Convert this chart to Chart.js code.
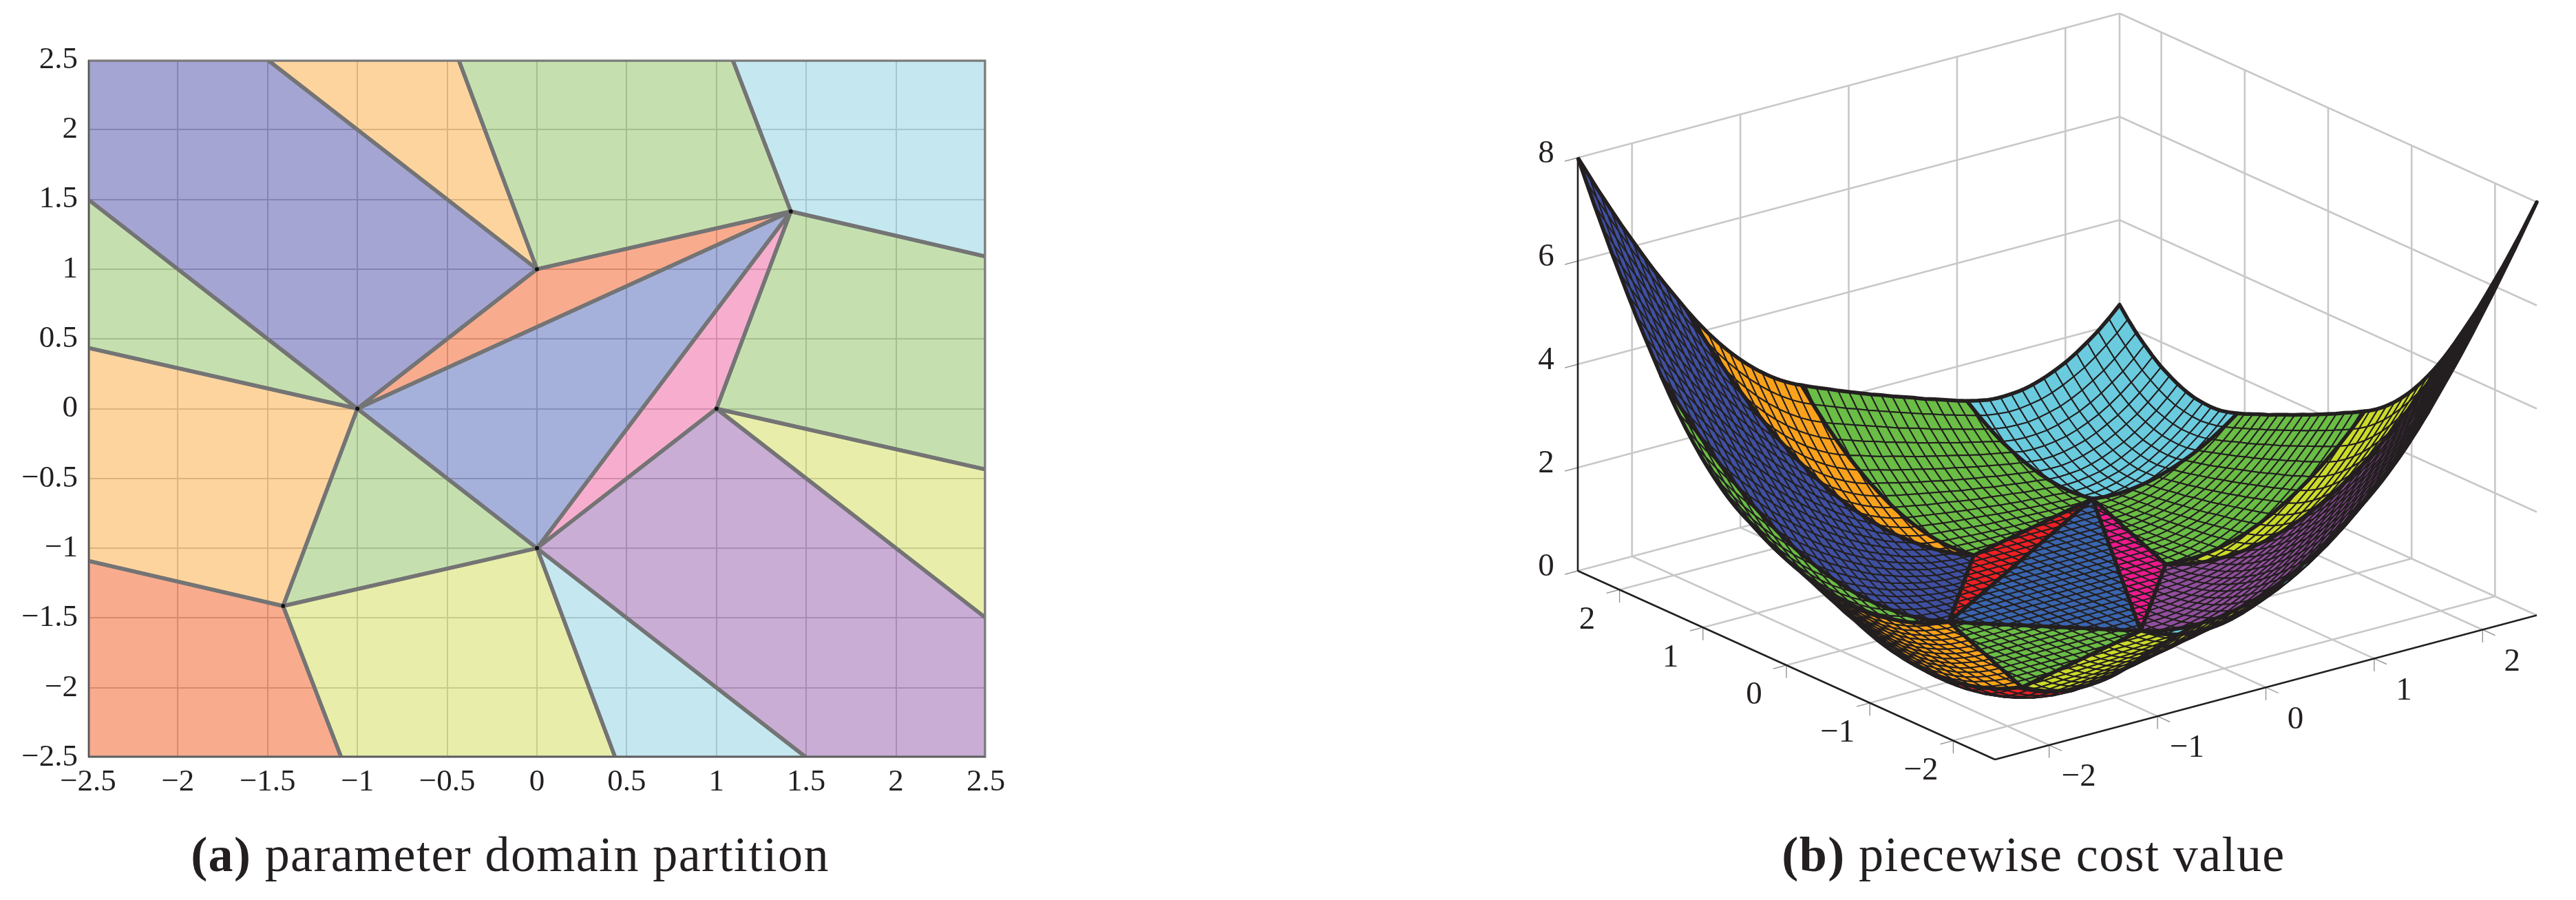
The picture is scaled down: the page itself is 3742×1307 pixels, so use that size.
<!DOCTYPE html>
<html>
<head>
<meta charset="utf-8">
<title>parameter domain partition and piecewise cost value</title>
<script src="https://cdn.jsdelivr.net/npm/chart.js@4"></script>
<style>
  body { margin: 0; background: #fff; width: 3742px; height: 1307px; position: relative; overflow: hidden; }
  canvas { position: absolute; top: 0; }
  .caption { position: absolute; top: 1196px; transform: translateX(-50%); white-space: nowrap; color: #231f20;
    font: 72px/90px "Liberation Serif", serif; letter-spacing: 1.4px; }
</style>
</head>
<body>
<canvas id="js-partition" width="1500" height="1180" style="left:0"></canvas>
<canvas id="js-surface" width="1592" height="1180" style="left:2150px"></canvas>
<div class="caption" style="left:741px"><b>(a)</b> parameter domain partition</div>
<div class="caption" style="left:2954px"><b>(b)</b> piecewise cost value</div>
<script>
const INK = "#231f20";
const TICK_FONT = "Liberation Serif";

const planeTicks = [ -2.5, -2, -1.5, -1, -0.5, 0, 0.5, 1, 1.5, 2, 2.5 ];
const axisTicks = [ -2, -1, 0, 1, 2 ];
const heightTicks = [ 0, 2, 4, 6, 8 ];
const innerVertices = [ [-1,0], [0,1], [1.414,1.414], [1,0], [0,-1], [-1.414,-1.414] ];

// first region is painted first on the surface, the later ones cover it
const regionCorners = [
  [ [-1.414,-1.414], [-1.09,-2.5], [-2.5,-2.5], [-2.5,-1.09] ],
  [ [0,-1], [1.5,-2.5], [0.436,-2.5] ],
  [ [0,-1], [0.436,-2.5], [-1.09,-2.5], [-1.414,-1.414] ],
  [ [-1,0], [-1.414,-1.414], [-2.5,-1.09], [-2.5,0.436] ],
  [ [-1,0], [-2.5,0.436], [-2.5,1.5] ],
  [ [1,0], [2.5,-1.5], [2.5,-2.5], [1.5,-2.5], [0,-1] ],
  [ [-2.5,2.5], [-1.5,2.5], [0,1], [-1,0], [-2.5,1.5] ],
  [ [1,0], [2.5,-0.436], [2.5,-1.5] ],
  [ [1.414,1.414], [2.5,1.09], [2.5,-0.436], [1,0] ],
  [ [1.09,2.5], [2.5,2.5], [2.5,1.09], [1.414,1.414] ],
  [ [-0.436,2.5], [1.09,2.5], [1.414,1.414], [0,1] ],
  [ [-1.5,2.5], [-0.436,2.5], [0,1] ],
  [ [-1,0], [-1.414,-1.414], [0,-1] ],
  [ [-1,0], [1.414,1.414], [0,1] ],
  [ [-1,0], [0,-1], [1.414,1.414] ],
  [ [0,-1], [1,0], [1.414,1.414] ],
];
const paleColors = [
  "rgba(243,87,27,.5)", "rgba(139,209,225,.5)", "rgba(209,219,83,.5)", "rgba(251,169,61,.5)",
  "rgba(139,193,93,.5)", "rgba(147,91,171,.5)", "rgba(73,75,165,.5)", "rgba(209,219,83,.5)",
  "rgba(139,193,93,.5)", "rgba(139,209,225,.5)", "rgba(139,193,93,.5)", "rgba(251,169,61,.5)",
  "rgba(139,193,93,.5)", "rgba(243,87,27,.5)", "rgba(75,99,181,.5)", "rgba(239,93,157,.5)",
];
const meshColors = [
  "#ed2024", "#6acbde", "#cbdb2a", "#faa21b",
  "#6abd45", "#924f9e", "#3f50a2", "#cbdb2a",
  "#6abd45", "#6acbde", "#6abd45", "#faa21b",
  "#6abd45", "#ed2024", "#3a66b0", "#ec1a8d",
];

// estimated cost x100 on a 0.1 grid, y = -2.5 .. 0, x = -2.5 .. 2.5 in each row.
// fitted to what the picture shows: 0 on the inner hexagon, 8 and 2.37 at the corners
const costRows = [
  [236,215,196,180,165,152,142,133,126,121,119,118,119,123,128,134,141,148,154,162,169,176,184,191,199,207,215,224,232,241,250,261,274,289,306,325,346,369,394,421,450,481,512,544,578,613,648,685,722,761,800],
  [215,194,176,159,144,132,121,112,105,101,98,97,99,102,107,113,119,125,132,138,145,152,159,166,173,181,188,196,204,212,221,232,245,260,277,296,317,340,365,392,421,450,481,512,545,578,613,648,685,722,761],
  [196,176,157,140,126,113,102,93,87,82,79,79,80,83,88,93,99,105,110,116,123,129,135,142,149,156,163,170,177,185,194,205,218,233,250,269,290,313,338,365,392,421,450,480,512,544,578,613,648,685,722],
  [180,159,140,124,109,96,85,77,70,65,63,62,63,66,71,76,81,86,91,97,102,108,114,120,126,133,139,146,153,160,169,180,193,208,225,244,265,288,313,338,365,392,421,450,481,512,545,578,613,648,685],
  [165,144,126,109,94,81,71,62,55,51,48,47,48,52,56,60,64,69,74,79,84,89,94,100,106,111,117,124,130,137,146,157,170,185,202,221,242,265,288,313,338,365,392,421,450,481,512,545,578,613,648],
  [152,132,113,96,81,69,58,49,43,38,35,34,36,39,42,46,50,54,58,63,67,72,77,82,87,92,98,103,109,116,125,136,149,164,181,200,221,242,265,288,313,338,365,392,421,450,481,512,545,578,613],
  [142,121,102,85,71,58,47,39,32,27,24,24,25,28,31,34,37,41,44,48,52,56,61,65,70,75,80,85,90,97,106,117,130,145,162,181,200,221,242,265,288,313,338,364,392,421,450,481,512,545,578],
  [133,112,93,77,62,49,39,30,23,18,16,15,16,19,21,24,27,29,33,36,39,43,47,51,55,59,63,68,73,80,89,100,113,128,145,162,181,200,221,242,265,288,313,338,365,392,421,450,481,512,544],
  [126,105,87,70,55,43,32,23,16,12,9,8,9,11,13,15,18,20,23,25,28,31,35,38,41,45,49,53,58,65,74,85,98,113,128,144,162,181,200,221,242,265,288,313,338,365,392,421,450,481,512],
  [121,101,82,65,51,38,27,18,12,7,4,3,4,6,7,9,10,12,14,17,19,21,24,27,30,33,36,40,45,52,61,72,85,98,113,128,145,162,181,200,221,242,265,288,313,338,365,392,421,450,481],
  [119,98,79,63,48,35,24,16,9,4,1,1,1,2,3,4,5,7,8,10,12,14,16,18,20,23,26,29,34,41,50,61,72,85,98,113,128,145,162,181,200,221,242,264,288,313,338,365,392,421,450],
  [118,97,79,62,47,34,24,15,8,3,1,0,0,0,1,1,2,3,4,5,6,7,9,11,13,15,17,20,25,32,40,50,61,72,85,98,113,128,145,162,181,200,221,242,265,288,313,338,365,392,421],
  [119,99,80,63,48,36,25,16,9,4,1,0,0,0,0,0,0,0,1,1,2,3,4,5,7,8,10,13,18,25,32,40,50,61,72,84,98,113,128,145,162,181,200,220,242,264,288,313,338,365,394],
  [123,102,83,66,52,39,28,19,11,6,2,0,0,0,0,0,0,0,0,0,0,1,1,2,3,4,5,8,13,18,24,32,41,50,61,72,85,98,113,128,144,162,181,200,221,242,265,288,313,340,369],
  [128,107,88,71,56,42,31,21,13,7,3,1,0,0,0,0,0,0,0,0,0,0,0,0,0,1,2,5,8,13,18,24,32,41,50,60,72,85,98,113,128,145,162,180,200,220,242,265,290,317,346],
  [134,113,93,76,60,46,34,24,15,9,4,1,0,0,0,0,0,0,0,0,0,0,0,0,0,0,1,2,5,8,13,18,25,32,41,50,61,72,85,98,113,128,145,162,181,200,221,244,269,296,325],
  [141,119,99,81,64,50,37,27,18,10,5,2,0,0,0,0,0,0,0,0,0,0,0,0,0,0,0,1,2,5,8,13,18,25,32,40,50,61,72,85,98,113,128,144,162,181,202,225,250,277,306],
  [148,125,105,86,69,54,41,29,20,12,7,3,0,0,0,0,0,0,0,0,0,0,0,0,0,0,0,0,1,2,4,8,13,18,25,32,40,50,61,72,84,98,113,128,145,164,185,208,233,260,289],
  [154,132,110,91,74,58,44,33,23,14,8,4,1,0,0,0,0,0,0,0,0,0,0,0,0,0,0,0,0,1,2,5,8,13,18,24,32,41,50,61,72,85,98,113,130,149,170,193,218,245,274],
  [162,138,116,97,79,63,48,36,25,17,10,5,1,0,0,0,0,0,0,0,0,0,0,0,0,0,0,0,0,0,0,2,5,8,13,18,24,32,41,50,60,72,85,100,117,136,157,180,205,232,261],
  [169,145,123,102,84,67,52,39,28,19,12,6,2,0,0,0,0,0,0,0,0,0,0,0,0,0,0,0,0,0,0,1,2,5,8,13,18,25,32,41,50,61,74,89,106,125,146,169,194,221,250],
  [176,152,129,108,89,72,56,43,31,21,14,7,3,1,0,0,0,0,0,0,0,0,0,0,0,0,0,0,0,0,0,0,1,2,5,8,13,18,25,32,41,52,65,80,97,116,137,160,185,212,241],
  [184,159,135,114,94,77,61,47,35,24,16,9,4,1,0,0,0,0,0,0,0,0,0,0,0,0,0,0,0,0,0,0,0,1,2,4,8,13,18,25,34,45,58,73,90,109,130,153,177,204,232],
  [191,166,142,120,100,82,65,51,38,27,18,11,5,2,0,0,0,0,0,0,0,0,0,0,0,0,0,0,0,0,0,0,0,0,1,2,4,8,13,20,29,40,53,68,85,103,124,146,170,196,224],
  [199,173,149,126,106,87,70,55,41,30,20,13,7,3,0,0,0,0,0,0,0,0,0,0,0,0,0,0,0,0,0,0,0,0,0,0,2,5,10,17,26,36,49,63,80,98,117,139,163,188,215],
  [207,181,156,133,111,92,75,59,45,33,23,15,8,4,1,0,0,0,0,0,0,0,0,0,0,0,0,0,0,0,0,0,0,0,0,0,1,4,8,15,23,33,45,59,75,92,111,133,156,181,207],
];

// the surface looks the same turned half way round the origin, so the y > 0 rows are the same rows backwards
const surfaceRows = [ ...costRows, ...costRows.slice(0, 25).reverse().map( row => [...row].reverse() ) ];

const minusSign = value => String(value).replace("-", "\u2212");

// ---------- (a) partition ----------

const partitionData = () => {
  const fills = regionCorners.map( (corners, i) => ({
    data: corners.map( ([x, y]) => ({x, y}) ),
    backgroundColor: paleColors[i],
    borderWidth: 0,
    fill: "shape",
  }));
  const outlines = regionCorners.map( corners => ({
    data: [...corners, corners[0]].map( ([x, y]) => ({x, y}) ),
    borderColor: "#747475",
    borderWidth: 5.5,
    borderJoinStyle: "round",
    fill: false,
  }));
  const frameTop = {
    data: [ {x:-2.5, y:2.5}, {x:2.5, y:2.5}, {x:2.5, y:-2.5} ],
    borderColor: "#808080", borderWidth: 3, fill: false,
  };
  const frameBottom = {
    data: [ {x:-2.5, y:2.5}, {x:-2.5, y:-2.5}, {x:2.5, y:-2.5} ],
    borderColor: "#4a4a4a", borderWidth: 2.5, fill: false,
  };
  const dots = {
    data: innerVertices.map( ([x, y]) => ({x, y}) ),
    showLine: false, pointRadius: 3, pointBackgroundColor: "#111", pointBorderWidth: 0,
  };
  return [ dots, frameBottom, frameTop, ...outlines, ...fills ];
};

const planeScale = (size, key) => ({
  type: "linear",
  min: -2.5,
  max: 2.5,
  afterBuildTicks: scale => { scale.ticks = planeTicks.map( value => ({value}) ); },
  afterFit: scale => { scale[key] = size; },
  grid: { color: "#bdbdbd", lineWidth: 2, drawTicks: false },
  border: { display: false },
  ticks: {
    autoSkip: false, maxRotation: 0, color: INK, padding: key === "width" ? 15 : 9,
    font: { family: TICK_FONT, size: 45 },
    callback: value => minusSign(value),
  },
});

new Chart(document.getElementById("js-partition"), {
  type: "line",
  data: { datasets: partitionData() },
  options: {
    responsive: false,
    animation: false,
    events: [],
    layout: { padding: { top: 87, right: 68 } },
    elements: { point: { radius: 0 }, line: { tension: 0 } },
    plugins: { legend: { display: false }, tooltip: { enabled: false } },
    scales: { x: planeScale(80, "height"), y: planeScale(128, "width") },
  },
});

// ---------- (b) surface ----------

// view used by the picture: straight projection read from the corners of the floor box
const toView = (x, y, z = 0) => ({
  x: 748 + (x + 2.5) * 157.4 - (y + 2.5) * 121.2,
  y: 1103 - (x + 2.5) * 41.9 - (y + 2.5) * 54.8 - z * 75,
});

const surfaceHeight = (x, y) => {
  const gx = Math.min( (x + 2.5) * 10, 50 ), gy = Math.min( (y + 2.5) * 10, 50 );
  const i = Math.min( Math.floor(gx), 49 ), j = Math.min( Math.floor(gy), 49 );
  const s = gx - i, t = gy - j;
  return ( surfaceRows[j][i] * (1-s) * (1-t) + surfaceRows[j][i+1] * s * (1-t)
    + surfaceRows[j+1][i] * (1-s) * t + surfaceRows[j+1][i+1] * s * t ) / 100;
};

const signedArea = poly => poly.reduce( (sum, p, i) => {
  const q = poly[(i + 1) % poly.length];
  return sum + p[0] * q[1] - q[0] * p[1];
}, 0);

const clipToRegion = (cell, region) => {
  const sign = Math.sign( signedArea(region) );
  let out = cell;
  region.forEach( (a, k) => {
    const b = region[(k + 1) % region.length];
    const side = p => sign * ( (b[0]-a[0]) * (p[1]-a[1]) - (b[1]-a[1]) * (p[0]-a[0]) );
    const next = [];
    out.forEach( (p, n) => {
      const q = out[(n + 1) % out.length];
      const sp = side(p), sq = side(q);
      if( sp >= 0 ) next.push(p);
      if( (sp > 0 && sq < 0) || (sp < 0 && sq > 0) ) {
        const t = sp / (sp - sq);
        next.push([ p[0] + (q[0]-p[0]) * t, p[1] + (q[1]-p[1]) * t ]);
      }
    });
    out = next;
  });
  return out;
};

const toSurfacePoint = ([x, y]) => toView( x, y, surfaceHeight(x, y) );

const lineSet = (points, color, width) => ({
  data: points, borderColor: color, borderWidth: width, fill: false, borderJoinStyle: "round",
});

const regionLayers = (region, color) => {
  const cells = [];
  for (let j = 0; j < 50; j++) {
    for (let i = 0; i < 50; i++) {
      const x0 = -2.5 + i / 10, x1 = -2.5 + (i + 1) / 10, y0 = -2.5 + j / 10, y1 = -2.5 + (j + 1) / 10;
      const poly = clipToRegion( [ [x0,y0], [x1,y0], [x1,y1], [x0,y1] ], region );
      if( poly.length < 3 || Math.abs( signedArea(poly) ) < 1e-5 )
        continue;
      cells.push({ depth: toView( (x0+x1)/2, (y0+y1)/2 ).y, poly });
    }
  }
  // back of the floor first, so the nearer cells lie on top
  cells.sort( (a, b) => a.depth - b.depth );

  const layers = cells.map( ({poly}) => ({
    data: [...poly, poly[0]].map(toSurfacePoint),
    backgroundColor: color,
    borderColor: INK,
    borderWidth: 2,
    borderJoinStyle: "round",
    fill: "shape",
  }));

  const rim = [];
  region.forEach( (a, k) => {
    const b = region[(k + 1) % region.length];
    const steps = Math.ceil( Math.hypot(b[0]-a[0], b[1]-a[1]) * 20 );
    for (let n = 0; n < steps; n++)
      rim.push( toSurfacePoint([ a[0] + (b[0]-a[0]) * n / steps, a[1] + (b[1]-a[1]) * n / steps ]) );
  });
  rim.push( rim[0] );
  layers.push( lineSet(rim, INK, 5.5) );
  return layers;
};

const boxLayers = () => {
  const GREY = "#c8c8c8", low = -2.5, high = 2.5, top = 8;
  const sets = [];
  const grey = (a, b) => sets.push( lineSet([ toView(...a), toView(...b) ], GREY, 2.6) );
  const thin = (a, b) => sets.push( lineSet([ toView(...a), toView(...b) ], "#8c8c8c", 1.3) );
  const black = (a, b) => sets.push( lineSet([ toView(...a), toView(...b) ], INK, 2.6) );

  heightTicks.forEach( z => {
    grey([low, high, z], [high, high, z]);
    grey([high, high, z], [high, low, z]);
    thin([low, high, z], [low - 0.12, high, z]);
  });
  grey([high, high, 0], [high, high, top]);
  axisTicks.forEach( t => {
    grey([t, high, 0], [t, high, top]);
    grey([high, t, 0], [high, t, top]);
    grey([t, low, 0], [t, high, 0]);
    grey([low, t, 0], [high, t, 0]);
    thin([low, t, 0], [low - 0.12, t, 0]);
    thin([low, t, 0], [low, t, -0.24]);
    thin([t, low, 0], [t, low - 0.15, 0]);
    thin([t, low, 0], [t, low, -0.24]);
  });
  black([low, high, 0], [low, high, top]);
  black([low, high, 0], [low, low, 0]);
  black([low, low, 0], [high, low, 0]);
  return sets;
};

// Chart.js puts the first dataset on top, so the painted order is turned round here
const surfaceData = () => {
  const painted = [ ...boxLayers() ];
  regionCorners.forEach( (region, i) => painted.push( ...regionLayers(region, meshColors[i]) ) );
  return painted.reverse();
};

const boxLabels = {
  id: "boxLabels",
  afterDatasetsDraw(chart) {
    const { ctx, scales: { x: sx, y: sy } } = chart;
    const put = (text, point, dx, dy) => ctx.fillText( text, sx.getPixelForValue(point.x) + dx, sy.getPixelForValue(point.y) + dy );
    ctx.save();
    ctx.font = `47px "${TICK_FONT}"`;
    ctx.fillStyle = INK;
    ctx.textAlign = "center";
    ctx.textBaseline = "middle";
    heightTicks.forEach( z => put( String(z), toView(-2.5, 2.5, z), -46, -5 ) );
    axisTicks.forEach( t => {
      put( minusSign(t), toView(-2.5, t), -47, 44 );
      put( minusSign(t), toView(t, -2.5), 43, 47 );
    });
    ctx.restore();
  },
};

new Chart(document.getElementById("js-surface"), {
  type: "line",
  data: { datasets: surfaceData() },
  plugins: [ boxLabels ],
  options: {
    responsive: false,
    animation: false,
    events: [],
    layout: { padding: 0 },
    datasets: { line: { clip: false } },
    elements: { point: { radius: 0 }, line: { tension: 0 } },
    plugins: { legend: { display: false }, tooltip: { enabled: false } },
    scales: {
      x: { type: "linear", display: false, min: 0, max: 1592 },
      y: { type: "linear", display: false, min: 0, max: 1180, reverse: true },
    },
  },
});
</script>
</body>
</html>
